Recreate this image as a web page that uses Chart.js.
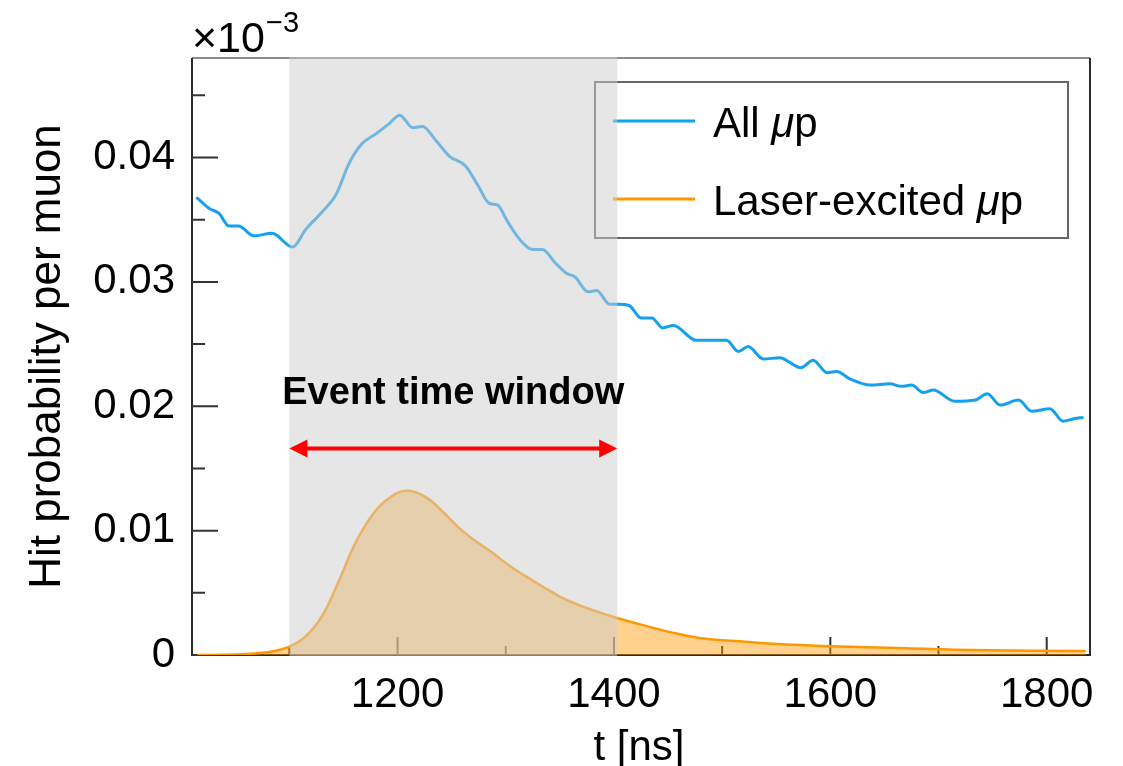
<!DOCTYPE html>
<html>
<head>
<meta charset="utf-8">
<script src="https://cdn.jsdelivr.net/npm/chart.js@4.4.1/dist/chart.umd.min.js"></script>
<style>
html, body { margin: 0; padding: 0; background: #fff; }
</style>
</head>
<body>
<canvas id="hitChart" width="1123" height="766"></canvas>
<script>
var FONT = "'Liberation Sans', Arial, Helvetica, sans-serif";

// All μp (×10^-3 axis units)
var tAll = [1014, 1026, 1035, 1044, 1053, 1067, 1084, 1103, 1115, 1130, 1143, 1155, 1167, 1180, 1192, 1202,
    1214, 1223, 1236, 1248, 1263, 1274, 1285, 1292, 1302, 1313, 1325, 1334, 1345, 1356, 1364, 1376, 1384, 1396,
    1404, 1414, 1425, 1435, 1445, 1455, 1476, 1504, 1515, 1524, 1538, 1553, 1573, 1584, 1597, 1606, 1618, 1637,
    1655, 1666, 1675, 1686, 1695, 1715, 1734, 1745, 1757, 1774, 1786, 1803, 1815, 1825, 1834];
var hitAll = [0.0368, 0.0359, 0.0355, 0.0345, 0.0345, 0.0337, 0.0339, 0.0328, 0.0342, 0.0356, 0.0370, 0.0395,
    0.0411, 0.0419, 0.0427, 0.0434, 0.0424, 0.0425, 0.0413, 0.0401, 0.0393, 0.0378, 0.0363, 0.0362, 0.0348,
    0.0334, 0.0326, 0.0326, 0.0316, 0.0307, 0.0304, 0.0292, 0.0293, 0.0282, 0.0282, 0.0281, 0.0271, 0.0271,
    0.0263, 0.0265, 0.0253, 0.0253, 0.0244, 0.0248, 0.0238, 0.0239, 0.0231, 0.0237, 0.0227, 0.0228, 0.0222,
    0.0217, 0.0218, 0.0216, 0.0217, 0.0211, 0.0213, 0.0204, 0.0205, 0.0210, 0.0201, 0.0205, 0.0196, 0.0198,
    0.0188, 0.0190, 0.0191];

// Laser-excited μp
var tLaser = [1015, 1040, 1060, 1075, 1085, 1100, 1115, 1130, 1146, 1161, 1177, 1192, 1208, 1226, 1242, 1257,
    1273, 1288, 1303, 1319, 1334, 1350, 1365, 1384, 1402, 1427, 1454, 1485, 1516, 1547, 1600, 1670, 1732, 1836];
var hitLaser = [0, 0.00002, 0.00008, 0.00018, 0.0003, 0.00067, 0.0015, 0.0031, 0.0060, 0.0090, 0.0113, 0.0126,
    0.0132, 0.0127, 0.0115, 0.0102, 0.0091, 0.0082, 0.0072, 0.0063, 0.0055, 0.0047, 0.0041, 0.0035, 0.0030,
    0.0024, 0.0018, 0.0013, 0.0011, 0.0009, 0.0007, 0.00054, 0.0004, 0.00032];

var seriesLabels = ['All μp', 'Laser-excited μp'];

var xMajorTicks = [1200, 1400, 1600, 1800];
var xTickLabels = ['1200', '1400', '1600', '1800'];
var xMinorTicks = [1100, 1300, 1500, 1700];
var yMajorTicks = [0, 0.01, 0.02, 0.03, 0.04];
var yTickLabels = ['0', '0.01', '0.02', '0.03', '0.04'];
var yMinorTicks = [0.005, 0.015, 0.025, 0.035, 0.045];

var windowStart = 1100;
var windowEnd = 1403;
var windowLabel = 'Event time window';
var windowLabelAt = 0.0202;
var arrowAt = 0.0166;

var xTitle = 't [ns]';
var yTitle = 'Hit probability per muon';

function toPoints(ts, vs) {
    var pts = [];
    for (var i = 0; i < ts.length; i++) {
        pts.push({ x: ts[i], y: vs[i] });
    }
    return pts;
}

function findLabel(value, ticks, labels) {
    for (var i = 0; i < ticks.length; i++) {
        if (Math.abs(ticks[i] - value) < 1e-9) return labels[i];
    }
    return '';
}

// draws "All " + italic "μ" + "p"
function drawMuText(ctx, text, x, y, size) {
    var parts = text.split('μ');
    var cx = x;
    for (var i = 0; i < parts.length; i++) {
        ctx.font = size + 'px ' + FONT;
        ctx.fillText(parts[i], cx, y);
        cx += ctx.measureText(parts[i]).width;
        if (i < parts.length - 1) {
            ctx.font = 'italic ' + size + 'px ' + FONT;
            ctx.fillText('μ', cx, y);
            cx += ctx.measureText('μ').width;
        }
    }
}

var framePlugin = {
    id: 'frame',
    beforeDatasetsDraw: function (chart) {
        var ctx = chart.ctx, a = chart.chartArea, x = chart.scales.x, y = chart.scales.y;
        ctx.save();
        ctx.lineCap = 'butt';
        ctx.strokeStyle = '#666';
        ctx.lineWidth = 1.5;
        ctx.beginPath();
        ctx.moveTo(a.left, a.top);
        ctx.lineTo(a.right, a.top);
        ctx.stroke();
        ctx.strokeStyle = '#2a2a2a';
        ctx.lineWidth = 2;
        ctx.beginPath();
        ctx.moveTo(a.left, a.top);
        ctx.lineTo(a.left, a.bottom);
        ctx.lineTo(a.right, a.bottom);
        ctx.lineTo(a.right, a.top);
        ctx.stroke();

        // inward ticks
        ctx.strokeStyle = '#333';
        ctx.lineWidth = 2;
        ctx.beginPath();
        xMajorTicks.forEach(function (v) {
            var px = x.getPixelForValue(v);
            ctx.moveTo(px, a.bottom);
            ctx.lineTo(px, a.bottom - 18);
        });
        xMinorTicks.forEach(function (v) {
            var px = x.getPixelForValue(v);
            ctx.moveTo(px, a.bottom);
            ctx.lineTo(px, a.bottom - 9);
        });
        yMajorTicks.forEach(function (v) {
            var py = y.getPixelForValue(v);
            ctx.moveTo(a.left, py);
            ctx.lineTo(a.left + 26, py);
        });
        yMinorTicks.forEach(function (v) {
            var py = y.getPixelForValue(v);
            ctx.moveTo(a.left, py);
            ctx.lineTo(a.left + 13, py);
        });
        ctx.stroke();
        ctx.restore();
    }
};

var overlayPlugin = {
    id: 'overlay',
    afterDatasetsDraw: function (chart) {
        var ctx = chart.ctx, a = chart.chartArea, x = chart.scales.x, y = chart.scales.y;
        ctx.save();

        // legend box (no fill, sits under the grey band)
        var bx = a.left + 403, by = a.top + 24, bw = 473, bh = 156;
        ctx.strokeStyle = '#666';
        ctx.lineWidth = 2;
        ctx.strokeRect(bx, by, bw, bh);
        var rows = [by + 39, by + 117];
        chart.data.datasets.forEach(function (ds, i) {
            ctx.strokeStyle = ds.borderColor;
            ctx.lineWidth = 3;
            ctx.beginPath();
            ctx.moveTo(bx + 18, rows[i]);
            ctx.lineTo(bx + 100, rows[i]);
            ctx.stroke();
            ctx.fillStyle = '#000';
            ctx.textBaseline = 'alphabetic';
            ctx.textAlign = 'left';
            drawMuText(ctx, ds.label, bx + 118, rows[i] + 16, 42);
        });

        // grey event window band
        var x0 = x.getPixelForValue(windowStart);
        var x1 = x.getPixelForValue(windowEnd);
        ctx.fillStyle = 'rgba(205, 205, 205, 0.5)';
        ctx.fillRect(x0, a.top - 1, x1 - x0, a.bottom - a.top + 2);

        // label and arrow
        ctx.fillStyle = '#000';
        ctx.font = 'bold 38px ' + FONT;
        ctx.textAlign = 'center';
        ctx.textBaseline = 'alphabetic';
        ctx.fillText(windowLabel, (x0 + x1) / 2, y.getPixelForValue(windowLabelAt));

        var ay = y.getPixelForValue(arrowAt);
        ctx.strokeStyle = '#ff0000';
        ctx.fillStyle = '#ff0000';
        ctx.lineWidth = 4;
        ctx.beginPath();
        ctx.moveTo(x0 + 12, ay);
        ctx.lineTo(x1 - 12, ay);
        ctx.stroke();
        ctx.beginPath();
        ctx.moveTo(x0, ay);
        ctx.lineTo(x0 + 18, ay - 9);
        ctx.lineTo(x0 + 18, ay + 9);
        ctx.closePath();
        ctx.fill();
        ctx.beginPath();
        ctx.moveTo(x1, ay);
        ctx.lineTo(x1 - 18, ay - 9);
        ctx.lineTo(x1 - 18, ay + 9);
        ctx.closePath();
        ctx.fill();
        ctx.restore();
    },
    afterDraw: function (chart) {
        var ctx = chart.ctx, a = chart.chartArea;
        ctx.save();
        ctx.fillStyle = '#000';
        ctx.textBaseline = 'alphabetic';

        // axis titles
        ctx.font = '42px ' + FONT;
        ctx.textAlign = 'center';
        ctx.fillText(xTitle, (a.left + a.right) / 2 - 2, 760);
        ctx.save();
        ctx.translate(60, (a.top + a.bottom) / 2);
        ctx.rotate(-Math.PI / 2);
        ctx.font = '44px ' + FONT;
        ctx.fillText(yTitle, 0, 0);
        ctx.restore();

        // exponent
        ctx.textAlign = 'left';
        ctx.font = '43px ' + FONT;
        ctx.fillText('×10', a.left, 52);
        var w = ctx.measureText('×10').width;
        ctx.font = '29px ' + FONT;
        ctx.fillText('−3', a.left + w + 1, 32);
        ctx.restore();
    }
};

var hitConfigData = {
    datasets: [
        {
            label: seriesLabels[0],
            data: toPoints(tAll, hitAll),
            borderColor: '#14a0f0',
            borderWidth: 3,
            fill: false,
            cubicInterpolationMode: 'monotone',
        },
        {
            label: seriesLabels[1],
            data: toPoints(tLaser, hitLaser),
            borderColor: '#ff9800',
            backgroundColor: 'rgba(255, 152, 0, 0.45)',
            borderWidth: 2.5,
            fill: 'origin',
            tension: 0.4,
        }
    ],
};

var hitConfig = {
    type: 'line',
    data: hitConfigData,
    options: {
        responsive: false,
        animation: false,
        devicePixelRatio: 1,
        layout: { padding: { top: 58, right: 33, bottom: 0, left: 0 } },
        elements: { point: { radius: 0 } },
        plugins: { legend: { display: false }, tooltip: { enabled: false } },
        scales: {
            x: {
                type: 'linear',
                min: 1010,
                max: 1840,
                grid: { display: false, drawTicks: false },
                border: { display: false },
                ticks: {
                    stepSize: 100,
                    includeBounds: false,
                    autoSkip: false,
                    maxRotation: 0,
                    padding: 15,
                    color: '#000',
                    font: { size: 42, family: FONT },
                    callback: function (value) { return findLabel(value, xMajorTicks, xTickLabels); }
                },
                afterFit: function (scale) { scale.height = 111; }
            },
            y: {
                type: 'linear',
                min: 0,
                max: 0.048,
                grid: { display: false, drawTicks: false },
                border: { display: false },
                ticks: {
                    stepSize: 0.01,
                    includeBounds: false,
                    autoSkip: false,
                    padding: 17,
                    color: '#000',
                    font: { size: 42, family: FONT },
                    callback: function (value) { return findLabel(value, yMajorTicks, yTickLabels); }
                },
                afterFit: function (scale) { scale.width = 192; }
            }
        }
    },
    plugins: [framePlugin, overlayPlugin]
};

var hitChart = new Chart(document.getElementById('hitChart'), hitConfig);
</script>
</body>
</html>
